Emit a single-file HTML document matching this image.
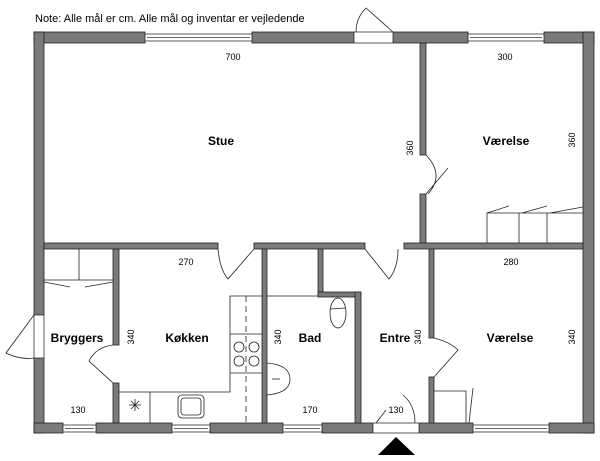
<!DOCTYPE html>
<html><head><meta charset="utf-8"><style>
html,body{margin:0;padding:0;background:#fff;}
svg{display:block}
text{font-family:"Liberation Sans",sans-serif;fill:#000}
.b{font-weight:bold;font-size:12px}
.d{font-size:9px}
</style></head><body>
<svg width="600" height="461" viewBox="0 0 600 461" xmlns="http://www.w3.org/2000/svg">
<text x="35" y="22" font-size="11">Note: Alle mål er cm. Alle mål og inventar er vejledende</text>
<g fill="#7a7a7a" stroke="#222" stroke-width="0.8">
<rect x="34" y="32" width="111" height="11"/>
<rect x="252" y="32" width="102" height="11"/>
<rect x="393" y="32" width="75" height="11"/>
<rect x="544" y="32" width="50" height="11"/>
<rect x="34" y="32" width="10" height="283"/>
<rect x="34" y="358" width="10" height="75"/>
<rect x="583" y="32" width="11" height="401"/>
<rect x="34" y="423" width="29" height="10"/>
<rect x="96" y="423" width="76" height="10"/>
<rect x="210" y="423" width="73" height="10"/>
<rect x="322" y="423" width="51" height="10"/>
<rect x="419" y="423" width="54" height="10"/>
<rect x="549" y="423" width="45" height="10"/>
<rect x="420" y="43" width="6" height="112"/>
<rect x="420" y="194" width="6" height="49"/>
<rect x="44" y="243" width="174" height="6"/>
<rect x="254" y="243" width="111" height="6"/>
<rect x="404" y="243" width="179" height="6"/>
<rect x="113" y="249" width="6" height="96"/>
<rect x="113" y="383" width="6" height="40"/>
<rect x="262" y="249" width="5" height="174"/>
<rect x="318" y="249" width="5" height="46"/>
<rect x="318" y="292" width="43" height="5"/>
<rect x="355" y="292" width="6" height="131"/>
<rect x="429" y="249" width="5" height="89"/>
<rect x="429" y="377" width="5" height="46"/>
</g>
<g fill="#fff" stroke="#333" stroke-width="0.8">
<rect x="145" y="34" width="107" height="7"/><line x1="147" y1="37.5" x2="250" y2="37.5"/>
<rect x="468" y="34" width="76" height="7"/><line x1="470" y1="37.5" x2="542" y2="37.5"/>
<rect x="63" y="425" width="33" height="7"/><line x1="65" y1="428.5" x2="94" y2="428.5"/>
<rect x="172" y="425" width="38" height="7"/><line x1="174" y1="428.5" x2="208" y2="428.5"/>
<rect x="283" y="425" width="39" height="7"/><line x1="285" y1="428.5" x2="320" y2="428.5"/>
<rect x="473" y="425" width="76" height="7"/><line x1="475" y1="428.5" x2="547" y2="428.5"/>
<rect x="354" y="32" width="39" height="11"/>
<rect x="373" y="423" width="46" height="10"/>
<rect x="34" y="315" width="10" height="43"/>
</g>
<g fill="none" stroke="#222" stroke-width="0.8">
<path d="M393 32 L366 8 Q356 18 356 32"/>
<path d="M426 155 Q445 175 428 194 M426 194 L448 168"/>
<path d="M218 249 Q220 270 228 279 L254 249"/>
<path d="M365 249 L389 279 Q398 268 398 249"/>
<path d="M113 345 Q96 347 89 361 L113 383"/>
<path d="M34 315 L6 353 Q20 360 34 358"/>
<path d="M434 338 Q450 342 458 350 L434 377"/>
<path d="M376 423 L386 410 M403 395 Q415 405 415 423"/>
<path d="M44 280 L113 280 M79 249 L79 280 M44 282 L70 287 M85 287 L113 282"/>
<path d="M487 243 L487 213 L519 213 L519 243 M519 213 L547 213 L547 243 M547 213 L583 213 M487 213 L509 206 M522 213 L547 206 M550 213 L583 207"/>
<path d="M434 391 L466 391 L466 423 M473 388 L469 423"/>
<path d="M267 296 L318 296"/>
<path d="M119 392 L230 392 L230 296 L262 296 M230 334 L262 334 M230 373 L262 373 M150 392 L150 423"/>
<path d="M246 296 L246 423" stroke-dasharray="6,4"/>
<circle cx="239" cy="347" r="5"/><circle cx="254" cy="347" r="5"/>
<circle cx="239" cy="361" r="5"/><circle cx="254" cy="361" r="5"/>
<rect x="178" y="395" width="26" height="23" rx="4"/><rect x="181" y="398" width="20" height="17" rx="3"/>
<path d="M129 405 L141 405 M135 399 L135 411 M131 401 L139 409 M139 401 L131 409"/>
<ellipse cx="338" cy="313" rx="8" ry="15"/><path d="M330 309 L346 308"/>
<path d="M267 363 Q290 365 290 379 Q290 393 267 395"/>
<line x1="272" y1="379" x2="280" y2="379"/>
</g>
<polygon points="378,455 396,437 415,455" fill="#000"/>
<text class="b" x="221" y="145" text-anchor="middle">Stue</text>
<text class="b" x="506" y="145" text-anchor="middle">Værelse</text>
<text class="b" x="77" y="342" text-anchor="middle">Bryggers</text>
<text class="b" x="187" y="342" text-anchor="middle">Køkken</text>
<text class="b" x="310" y="342" text-anchor="middle">Bad</text>
<text class="b" x="395" y="342" text-anchor="middle">Entre</text>
<text class="b" x="510" y="342" text-anchor="middle">Værelse</text>
<g class="d" text-anchor="middle">
<text x="233" y="60">700</text>
<text x="505" y="60">300</text>
<text x="186" y="265">270</text>
<text x="511" y="265">280</text>
<text x="78" y="413">130</text>
<text x="310" y="413">170</text>
<text x="396" y="413">130</text>
<text transform="translate(413,148) rotate(-90)">360</text>
<text transform="translate(575,140) rotate(-90)">360</text>
<text transform="translate(134,337) rotate(-90)">340</text>
<text transform="translate(281,337) rotate(-90)">340</text>
<text transform="translate(421,337) rotate(-90)">340</text>
<text transform="translate(575,337) rotate(-90)">340</text>
</g>
</svg>
</body></html>
